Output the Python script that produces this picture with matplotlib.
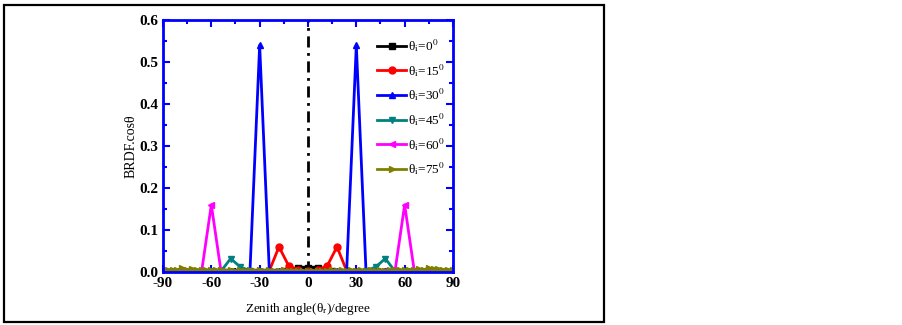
import numpy as np
import matplotlib
matplotlib.use("Agg")
import matplotlib.pyplot as plt
from matplotlib.patches import Rectangle
from matplotlib.ticker import MultipleLocator

plt.rcParams["font.family"] = ["Liberation Serif", "DejaVu Serif"]
plt.rcParams["mathtext.fontset"] = "stix"
plt.rcParams["axes.unicode_minus"] = False

# angle grids (degrees)
x3 = list(range(-90, 91, 3))
x6 = list(range(-90, 91, 6))

# theta_i = 0 (3 deg grid)
y0 = [0.001, 0.001, 0.001, 0.001, 0.001, 0.001, 0.001, 0.001, 0.001, 0.001,
      0.001, 0.001, 0.001, 0.001, 0.001, 0.001, 0.001, 0.001, 0.001, 0.001,
      0.001, 0.001, 0.001, 0.001, 0.001, 0.002, 0.003, 0.006, 0.009, 0.008,
      0.009, 0.008, 0.009, 0.006, 0.003, 0.002, 0.001, 0.001, 0.001, 0.001,
      0.001, 0.001, 0.001, 0.001, 0.001, 0.001, 0.001, 0.001, 0.001, 0.001,
      0.001, 0.001, 0.001, 0.001, 0.001, 0.001, 0.001, 0.001, 0.001, 0.001,
      0.001]
# theta_i = 15 (6 deg grid)
y15 = [0.001, 0.001, 0.001, 0.001, 0.001, 0.001, 0.001, 0.001, 0.001, 0.001,
       0.001, 0.003, 0.060, 0.015, 0.004, 0.002, 0.004, 0.015, 0.060, 0.003,
       0.001, 0.001, 0.001, 0.001, 0.001, 0.001, 0.001, 0.001, 0.001, 0.001,
       0.001]
# theta_i = 30
y30 = [0.002, 0.001, 0.001, 0.001, 0.001, 0.002, 0.001, 0.002, 0.002, 0.003,
       0.540, 0.003, 0.002, 0.001, 0.001, 0.001, 0.001, 0.001, 0.002, 0.003,
       0.540, 0.003, 0.002, 0.002, 0.001, 0.002, 0.001, 0.001, 0.001, 0.001,
       0.002]
# theta_i = 45
y45 = [0.001, 0.001, 0.001, 0.001, 0.001, 0.001, 0.002, 0.032, 0.012, 0.003,
       0.001, 0.001, 0.001, 0.001, 0.001, 0.001, 0.001, 0.001, 0.001, 0.001,
       0.001, 0.003, 0.012, 0.032, 0.002, 0.001, 0.001, 0.001, 0.001, 0.001,
       0.001]
# theta_i = 60
y60 = [0.001, 0.000, 0.001, 0.001, 0.002, 0.160, 0.002, 0.001, 0.001, 0.001,
       0.001, 0.001, 0.001, 0.001, 0.001, 0.001, 0.001, 0.001, 0.001, 0.001,
       0.001, 0.001, 0.001, 0.001, 0.002, 0.160, 0.002, 0.001, 0.001, 0.000,
       0.001]
# theta_i = 75 (3 deg grid)
y75 = [0.004, 0.005, 0.006, 0.005, 0.009, 0.006, 0.008, 0.005, 0.006, 0.004,
       0.005, 0.004, 0.005, 0.003, 0.004, 0.003, 0.004, 0.003, 0.004, 0.003,
       0.004, 0.003, 0.004, 0.003, 0.003, 0.004, 0.003, 0.003, 0.002, 0.003,
       0.002, 0.003, 0.002, 0.003, 0.003, 0.004, 0.003, 0.004, 0.003, 0.004,
       0.003, 0.004, 0.003, 0.004, 0.003, 0.004, 0.003, 0.005, 0.004, 0.005,
       0.004, 0.006, 0.005, 0.007, 0.006, 0.009, 0.007, 0.008, 0.005, 0.006,
       0.004]

series = [
    (x3, y0, "black", "s", 0),
    (x6, y15, "red", "o", 15),
    (x6, y30, "blue", "^", 30),
    (x6, y45, "#008080", "v", 45),
    (x6, y60, "magenta", "<", 60),
    (x3, y75, "#808000", ">", 75),
]

fig = plt.figure(figsize=(9.02, 3.25), dpi=100)
fig.patches.append(Rectangle((0.004, 0.01), 0.666, 0.975, transform=fig.transFigure,
                             fill=False, edgecolor="black", linewidth=1.6))
ax = fig.add_axes([0.1807, 0.163, 0.3215, 0.7754])

ax.plot([0, 0], [0, 0.6], color="black", linestyle=(0, (4, 2, 1, 2)), linewidth=2)
for xs, ys, col, mk, th in series:
    ax.plot(xs, ys, color=col, marker=mk, markersize=5, linewidth=2,
            label="θ" + r"$_{\rm i}$=" + str(th) + r"$^{\rm 0}$")

ax.set_xlim(-90, 90)
ax.set_ylim(0, 0.6)
ax.xaxis.set_major_locator(MultipleLocator(30))
ax.xaxis.set_minor_locator(MultipleLocator(15))
ax.yaxis.set_major_locator(MultipleLocator(0.1))
ax.yaxis.set_minor_locator(MultipleLocator(0.05))
ax.set_yticklabels(["%.1f" % v for v in ax.get_yticks()])
for s in ax.spines.values():
    s.set_color("blue")
    s.set_linewidth(2)
ax.tick_params(which="both", direction="in", top=True, right=True, color="blue", width=1.5)
ax.tick_params(which="major", length=5, labelsize=11)
ax.tick_params(which="minor", length=3)
for lab_ in ax.get_xticklabels() + ax.get_yticklabels():
    lab_.set_fontweight("bold")

ax.set_xlabel("Zenith angle(θ" + r"$_{\rm r}$)/degree", fontsize=9.5, labelpad=8)
ax.set_ylabel("BRDF.cosθ", fontsize=10, labelpad=1)
ax.legend(loc="upper left", bbox_to_anchor=(0.72, 0.952), frameon=False, fontsize=9.5,
          handlelength=2.2, labelspacing=0.58, handletextpad=0.15, borderaxespad=0)

plt.savefig("out.png", dpi=100)
